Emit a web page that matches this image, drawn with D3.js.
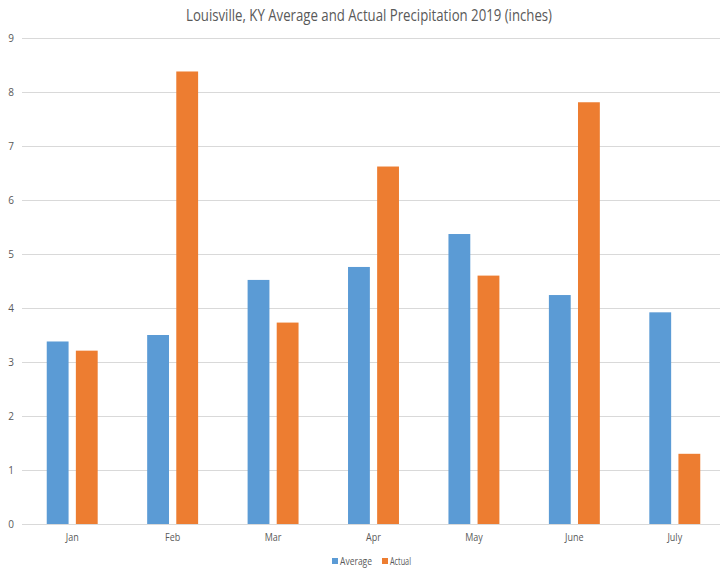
<!DOCTYPE html>
<html><head><meta charset="utf-8">
<script src="https://cdn.jsdelivr.net/npm/d3@7"></script>
<style>body{margin:0;background:#fff}svg{display:block}</style>
</head><body><svg id="c" width="720" height="571"></svg>
<script>
const categories = ["Jan","Feb","Mar","Apr","May","June","July"];
const seriesNames = ["Average","Actual"];
const averageValues = [3.38, 3.50, 4.52, 4.76, 5.37, 4.24, 3.92];
const actualValues = [3.21, 8.38, 3.73, 6.62, 4.60, 7.81, 1.30];
const yTicks = [0,1,2,3,4,5,6,7,8,9];
const colors = ["#5B9BD5","#ED7D31"];
const titleText = "Louisville, KY Average and Actual Precipitation 2019 (inches)";

const font = "'Open Sans',sans-serif";
const svg = d3.select("#c");
const x = d3.scaleBand().domain(categories).range([22, 725]);
const y = d3.scaleLinear().domain([0, 9]).range([524, 38]);
const xs = d3.scaleBand().domain(seriesNames).range([0, x.bandwidth()]).paddingInner(0.25).paddingOuter(0.85);

svg.append("text").attr("x", 369).attr("y", 21).attr("text-anchor","middle")
  .attr("font-family", font).attr("font-size", 16).attr("fill", "#595959")
  .attr("textLength", 366).attr("lengthAdjust", "spacingAndGlyphs").text(titleText);

const yAxis = svg.append("g").attr("transform","translate(22,0)")
  .call(d3.axisLeft(y).tickValues(yTicks).tickSize(-703).tickPadding(8));
yAxis.select(".domain").remove();
yAxis.selectAll("line").attr("stroke","#d9d9d9").attr("stroke-width",1);
yAxis.selectAll("text").attr("font-family", font).attr("font-size", 10).attr("fill","#595959");

const data = [averageValues, actualValues];
seriesNames.forEach((s, si) => {
  svg.append("g").selectAll("rect").data(categories).join("rect")
    .attr("x", (c) => x(c) + xs(s))
    .attr("width", xs.bandwidth())
    .attr("y", (c, i) => y(data[si][i]))
    .attr("height", (c, i) => y(0) - y(data[si][i]))
    .attr("fill", colors[si]);
});

const xAxis = svg.append("g").attr("transform","translate(0,524)")
  .call(d3.axisBottom(x).tickSize(0).tickPadding(10));
xAxis.select(".domain").attr("stroke","#d9d9d9");
xAxis.selectAll("text").attr("font-family", font).attr("font-size", 10).attr("fill","#595959")
  .attr("transform", "scale(0.9,1)");

const legend = svg.append("g");
const lx = [332, 382];
const lw = [32, 21];
seriesNames.forEach((s, i) => {
  legend.append("rect").attr("x", lx[i]).attr("y", 558).attr("width", 6).attr("height", 6).attr("fill", colors[i]);
  legend.append("text").attr("x", lx[i] + 8).attr("y", 565).attr("font-family", font).attr("font-size", 10)
    .attr("fill","#595959").attr("textLength", lw[i]).attr("lengthAdjust","spacingAndGlyphs").text(s);
});
</script></body></html>
